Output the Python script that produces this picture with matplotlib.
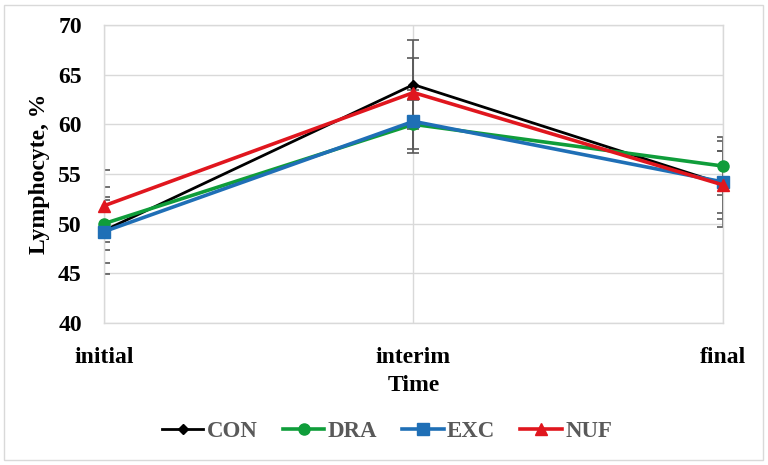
import matplotlib.pyplot as plt
from matplotlib.patches import Rectangle

plt.rcParams["font.family"] = ["Liberation Serif", "DejaVu Serif"]
plt.rcParams["font.weight"] = "bold"

time_points = ["initial", "interim", "final"]
groups = ["CON", "DRA", "EXC", "NUF"]

con = [49.3, 64.0, 54.0]
dra = [50.0, 60.0, 55.8]
exc = [49.2, 60.3, 54.2]
nuf = [51.8, 63.2, 53.9]

con_sd = [4.4, 4.5, 4.3]
dra_sd = [2.7, 2.5, 2.9]
exc_sd = [3.2, 3.2, 3.1]
nuf_sd = [3.6, 3.5, 3.4]

series = {"CON": con, "DRA": dra, "EXC": exc, "NUF": nuf}
errors = {"CON": con_sd, "DRA": dra_sd, "EXC": exc_sd, "NUF": nuf_sd}
colors = {"CON": "#000000", "DRA": "#0f9d3a", "EXC": "#1f6fb6", "NUF": "#e0161e"}
markers = {"CON": "D", "DRA": "o", "EXC": "s", "NUF": "^"}
msizes = {"CON": 5.5, "DRA": 8, "EXC": 8, "NUF": 8.5}
lwidths = {"CON": 2.0, "DRA": 2.6, "EXC": 2.6, "NUF": 2.6}


def plot_lymphocyte():
    fig = plt.figure(figsize=(7.68, 4.65), dpi=100)
    ax = fig.add_axes([0.1354, 0.3054, 0.806, 0.6408])

    x = list(range(len(time_points)))

    # barras de error primero (quedan por debajo de las lineas)
    for g in groups:
        ax.errorbar(x, series[g], yerr=errors[g], fmt="none",
                    ecolor="#595959", elinewidth=1.2, capsize=4,
                    capthick=1.2, zorder=2)

    for g in groups:
        ax.plot(x, series[g], color=colors[g], lw=lwidths[g],
                marker=markers[g], markersize=msizes[g], label=g,
                zorder=3, clip_on=False)

    ax.set_xlim(0, 2)
    ax.set_ylim(40, 70)
    ax.set_yticks(range(40, 71, 5))
    ax.set_xticks(x)
    ax.set_xticklabels(time_points)
    ax.tick_params(axis="both", length=0, labelsize=17)
    ax.tick_params(axis="y", pad=16)
    ax.tick_params(axis="x", pad=17)

    ax.grid(True, color="#d9d9d9", lw=1.0, zorder=0)
    ax.set_axisbelow(True)
    for s in ax.spines.values():
        s.set_color("#d9d9d9")
        s.set_linewidth(1.0)

    ax.set_xlabel("Time", fontsize=17, fontweight="bold", labelpad=5)
    ax.set_ylabel("Lymphocyte, %", fontsize=17, fontweight="bold", labelpad=6)

    leg = fig.legend(loc="center", bbox_to_anchor=(0.504, 0.073), ncol=4,
                     frameon=False, fontsize=16.5, handlelength=1.8,
                     handletextpad=0.15, columnspacing=1.1)
    for t in leg.get_texts():
        t.set_color("#595959")
        t.set_fontweight("bold")

    # marco del area del grafico
    fig.patches.append(Rectangle((0.005, 0.01), 0.989, 0.979,
                                 transform=fig.transFigure, fill=False,
                                 edgecolor="#d9d9d9", lw=1.0))

    fig.savefig("out.png", dpi=100)


if __name__ == "__main__":
    plot_lymphocyte()
